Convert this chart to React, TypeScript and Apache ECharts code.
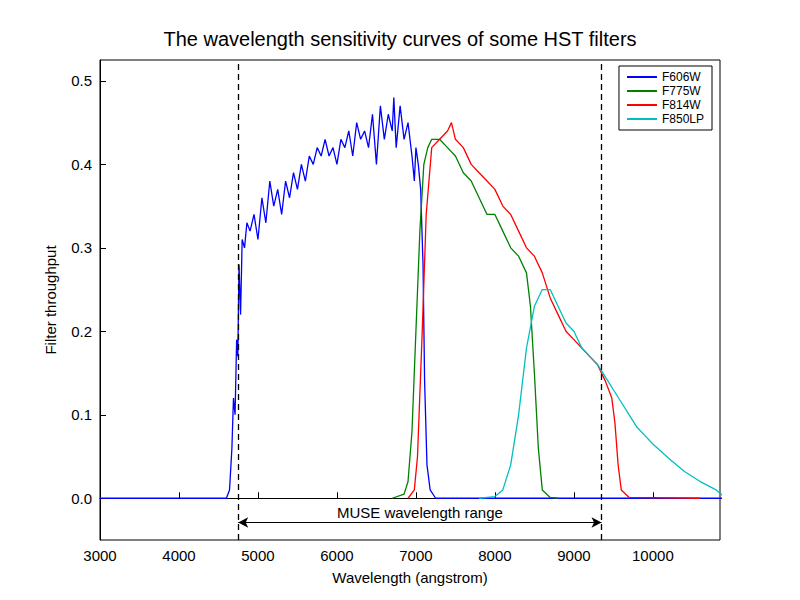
import { useEffect, useRef } from "react";
import * as echarts from "echarts";

const f606w: [number, number][] = [
  [3000, 0], [4600, 0], [4640, 0.01], [4670, 0.06], [4690, 0.12], [4710, 0.1], [4730, 0.19], [4745, 0.17],
  [4760, 0.28], [4780, 0.22], [4800, 0.31], [4830, 0.3], [4860, 0.33], [4900, 0.32], [4950, 0.34], [5000, 0.31],
  [5050, 0.36], [5100, 0.33], [5150, 0.38], [5200, 0.35], [5250, 0.37], [5300, 0.34], [5350, 0.38], [5400, 0.36],
  [5450, 0.39], [5500, 0.37], [5550, 0.4], [5600, 0.38], [5650, 0.41], [5700, 0.4], [5750, 0.42], [5800, 0.41],
  [5850, 0.43], [5900, 0.41], [5950, 0.42], [6000, 0.4], [6050, 0.43], [6100, 0.42], [6150, 0.44], [6200, 0.41],
  [6250, 0.45], [6300, 0.43], [6350, 0.44], [6400, 0.42], [6450, 0.46], [6500, 0.4], [6550, 0.47], [6600, 0.43],
  [6650, 0.46], [6700, 0.44], [6720, 0.48], [6750, 0.42], [6800, 0.47], [6850, 0.43], [6900, 0.45], [6950, 0.41],
  [6980, 0.38], [7000, 0.42], [7030, 0.4], [7060, 0.37], [7090, 0.28], [7110, 0.14], [7140, 0.04], [7180, 0.01],
  [7250, 0], [10900, 0],
];
const f775w: [number, number][] = [
  [6700, 0], [6850, 0.005], [6900, 0.02], [6950, 0.08], [7000, 0.2], [7050, 0.32], [7100, 0.4], [7150, 0.42],
  [7200, 0.43], [7300, 0.43], [7400, 0.42], [7500, 0.41], [7600, 0.39], [7700, 0.38], [7800, 0.36], [7900, 0.34],
  [8000, 0.34], [8100, 0.32], [8200, 0.3], [8300, 0.29], [8400, 0.27], [8450, 0.23], [8500, 0.15], [8550, 0.06],
  [8600, 0.01], [8700, 0.001], [8800, 0],
];
const f814w: [number, number][] = [
  [6900, 0], [6980, 0.01], [7020, 0.05], [7080, 0.2], [7130, 0.34], [7200, 0.42], [7300, 0.43], [7400, 0.44],
  [7450, 0.45], [7500, 0.43], [7600, 0.42], [7700, 0.4], [7800, 0.39], [7900, 0.38], [8000, 0.37], [8100, 0.35],
  [8200, 0.34], [8300, 0.32], [8400, 0.3], [8500, 0.29], [8600, 0.27], [8700, 0.24], [8800, 0.22], [8900, 0.2],
  [9000, 0.19], [9100, 0.18], [9200, 0.17], [9300, 0.16], [9400, 0.14], [9480, 0.12], [9520, 0.09],
  [9560, 0.04], [9600, 0.01], [9700, 0.001], [10600, 0],
];
const f850lp: [number, number][] = [
  [7800, 0], [8000, 0.002], [8100, 0.01], [8200, 0.04], [8300, 0.1], [8400, 0.18], [8500, 0.23], [8600, 0.25],
  [8700, 0.25], [8800, 0.23], [8900, 0.21], [9000, 0.2], [9100, 0.18], [9200, 0.17], [9300, 0.16], [9400, 0.145],
  [9500, 0.13], [9600, 0.115], [9700, 0.1], [9800, 0.085], [9900, 0.075], [10000, 0.065], [10200, 0.048],
  [10400, 0.032], [10600, 0.02], [10800, 0.01], [10900, 0.002],
];
const museRange = [4750, 9350];
const yTicks = [0, 0.1, 0.2, 0.3, 0.4, 0.5];

export default function App() {
  const chartRef = useRef<HTMLDivElement>(null);

  useEffect(() => {
    if (!chartRef.current) return;
    const chart = echarts.init(chartRef.current, null, { renderer: "svg" });
    const font = "Liberation Sans, Arial, sans-serif";
    const line = (name: string, color: string, data: [number, number][]) => ({
      name, type: "line", data, showSymbol: false, symbol: "none",
      lineStyle: { color, width: 1.3 }, itemStyle: { color },
    });
    chart.setOption({
      animation: false,
      textStyle: { fontFamily: font },
      title: {
        text: "The wavelength sensitivity curves of some HST filters",
        left: "center", top: 24,
        textStyle: { fontSize: 20, fontWeight: "normal", color: "#000", fontFamily: font },
      },
      legend: {
        orient: "vertical", right: 88, top: 66, padding: [5, 8],
        borderColor: "#000", borderWidth: 1, itemGap: 2,
        itemWidth: 30, itemHeight: 2, icon: "rect",
        textStyle: { fontSize: 12, color: "#000" },
      },
      grid: { left: 100, right: 80, top: 60, bottom: 60, show: true, borderColor: "#000", borderWidth: 1 },
      xAxis: {
        type: "value", min: 3000, max: 10850, interval: 1000,
        name: "Wavelength (angstrom)", nameLocation: "middle", nameGap: 30,
        nameTextStyle: { fontSize: 15, color: "#000" },
        axisLine: { lineStyle: { color: "#000" } },
        axisTick: { inside: true, length: 6, lineStyle: { color: "#000" } },
        axisLabel: { fontSize: 15, color: "#000", showMaxLabel: false, formatter: (v: number) => String(v) },
        splitLine: { show: false },
      },
      yAxis: {
        type: "value", min: -0.05, max: 0.525,
        name: "Filter throughput", nameLocation: "middle", nameGap: 42,
        nameTextStyle: { fontSize: 15, color: "#000" },
        axisLine: { lineStyle: { color: "#000" } },
        axisTick: { inside: true, length: 6, customValues: yTicks, lineStyle: { color: "#000" } },
        axisLabel: { fontSize: 15, color: "#000", customValues: yTicks, formatter: (v: number) => v.toFixed(1) },
        splitLine: { show: false },
      },
      series: [
        {
          ...line("F606W", "#0000ff", f606w),
          markLine: {
            silent: true, symbol: "none",
            lineStyle: { color: "#000", type: [6, 4], width: 1.3 },
            label: { show: false },
            data: museRange.map((x) => ({ xAxis: x })),
          },
        },
        {
          ...line("F775W", "#008000", f775w),
          markLine: {
            silent: true, symbol: ["arrow", "arrow"], symbolSize: [8, 10],
            lineStyle: { color: "#000", type: "solid", width: 1 },
            label: {
              show: true, position: "middle", formatter: "MUSE wavelength range",
              fontSize: 15, color: "#000", distance: 2,
            },
            data: [[{ coord: [museRange[0], -0.029] }, { coord: [museRange[1], -0.029] }]],
          },
        },
        line("F814W", "#ff0000", f814w),
        line("F850LP", "#00bfbf", f850lp),
      ],
    });
    return () => chart.dispose();
  }, []);

  return <div ref={chartRef} style={{ position: "fixed", left: 0, top: 0, width: 800, height: 600, background: "#fff" }} />;
}
